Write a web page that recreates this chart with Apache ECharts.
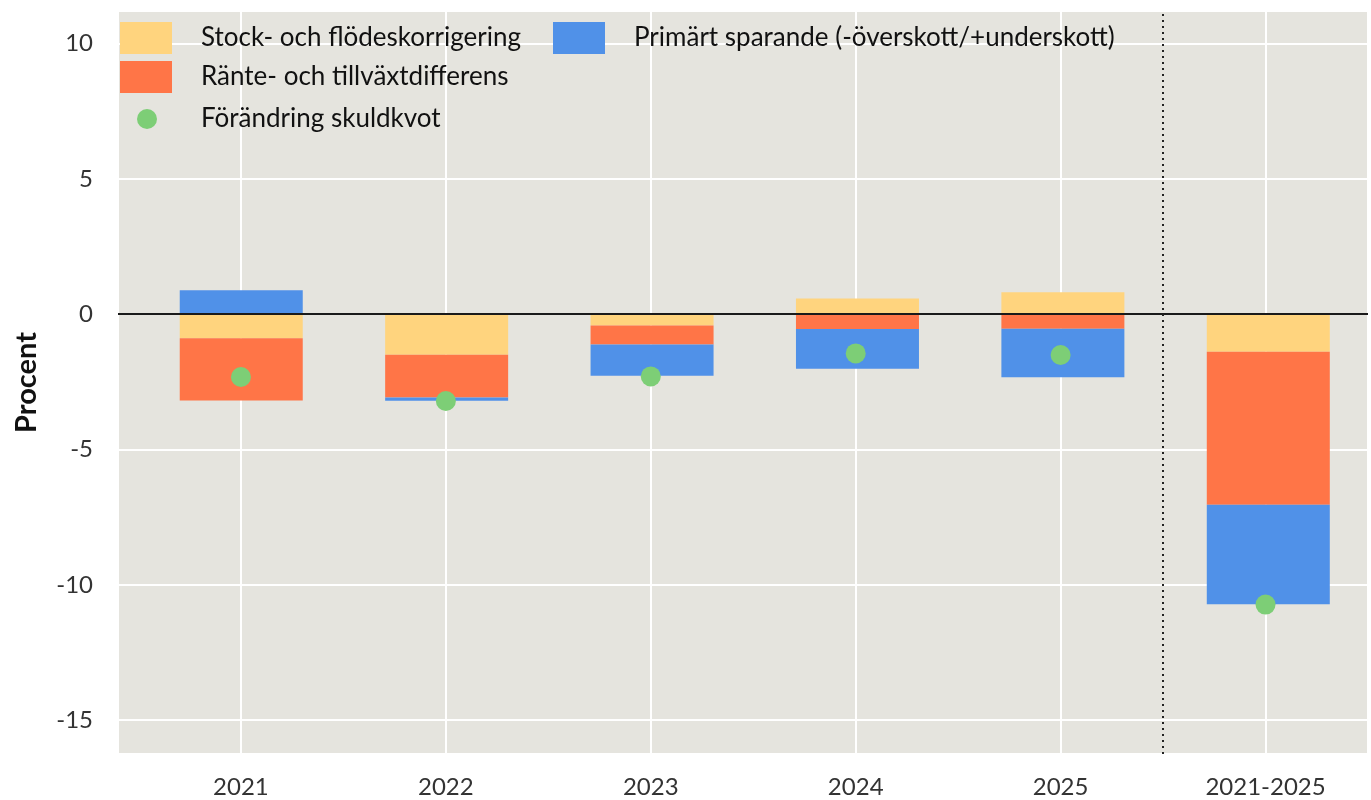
<!DOCTYPE html>
<html lang="sv">
<head>
  <meta charset="UTF-8">
  <title>Skuldkvot</title>
  <style>
    html, body { margin: 0; padding: 0; background: #fff; }
    #chart { width: 1371px; height: 800px; }
  </style>
</head>
<body>
  <div id="chart"></div>
  <script src="https://cdn.jsdelivr.net/npm/echarts@6/dist/echarts.min.js"></script>
  <script>
    // kategorier (x-axel)
    var categories = ['2021', '2022', '2023', '2024', '2025', '2021-2025'];
    // bidrag till förändring i skuldkvot, procent
    var stockFlow = [-0.89, -1.50, -0.42, 0.58, 0.81, -1.39];
    var rateGrowth = [-2.30, -1.58, -0.70, -0.55, -0.54, -5.65];
    var primary = [0.88, -0.12, -1.16, -1.47, -1.79, -3.68];
    var debtChange = [-2.32, -3.21, -2.30, -1.45, -1.51, -10.73];
    // y-axelns etiketter
    var yTicks = [-15, -10, -5, 0, 5, 10];

    var names = {
      stock: 'Stock- och flödeskorrigering',
      rate: 'Ränte- och tillväxtdifferens',
      primary: 'Primärt sparande (-överskott/+underskott)',
      debt: 'Förändring skuldkvot'
    };

    // x-axeln går från -0.6 till 5.5 (kategoriindex), staplarna ligger i ett
    // eget grid med kategoriaxel som täcker -0.5 .. 5.5
    var xMin = -0.6, xMax = 5.5, yMin = -16.25, yMax = 11.2;
    var plotLeft = 118, plotRight = 0, plotTop = 11, plotBottom = 46;
    var catWidth = (1371 - plotLeft - plotRight) / (xMax - xMin);
    var barLeft = plotLeft + (-0.5 - xMin) * catWidth;

    function pairs(arr) {
      return arr.map(function (v, i) { return [i, v]; });
    }

    var font = 'Lato';
    var legendText = { fontFamily: font, fontSize: 26, color: '#111', padding: [0, 0, 0, 24] };

    var option = {
      animation: false,
      textStyle: { fontFamily: font },
      grid: [
        {
          left: plotLeft, right: plotRight, top: plotTop, bottom: plotBottom,
          show: true, backgroundColor: '#E5E4DE', borderWidth: 0
        },
        {
          left: barLeft, right: plotRight, top: plotTop, bottom: plotBottom
        }
      ],
      legend: [
        {
          data: [names.stock, names.rate],
          orient: 'vertical', left: 120, top: 22, padding: 0,
          itemWidth: 52, itemHeight: 32, itemGap: 7, icon: 'rect',
          textStyle: legendText
        },
        {
          data: [names.primary],
          orient: 'vertical', left: 553, top: 22, padding: 0,
          itemWidth: 52, itemHeight: 32, icon: 'rect',
          textStyle: legendText
        },
        {
          data: [names.debt],
          orient: 'vertical', left: 137, top: 106, padding: 0,
          itemWidth: 20, itemHeight: 20, icon: 'circle',
          textStyle: { fontFamily: font, fontSize: 26, color: '#111', padding: [0, 0, 0, 39] }
        }
      ],
      xAxis: [
        {
          type: 'value',
          gridIndex: 0,
          min: xMin,
          max: xMax,
          axisLine: { show: false },
          axisTick: { show: false },
          axisLabel: {
            margin: 21,
            fontSize: 24,
            color: '#333',
            formatter: function (v) {
              return Number.isInteger(v) && categories[v] !== undefined ? categories[v] : '';
            }
          },
          splitLine: { show: true, lineStyle: { color: '#fff', width: 2 } }
        },
        {
          type: 'category',
          gridIndex: 1,
          data: categories,
          axisLine: { show: false },
          axisTick: { show: false },
          axisLabel: { show: false },
          splitLine: { show: false }
        }
      ],
      yAxis: [
        {
          type: 'value',
          gridIndex: 0,
          min: yMin,
          max: yMax,
          name: 'Procent',
          nameLocation: 'middle',
          nameGap: 77,
          nameTextStyle: { fontFamily: font, fontSize: 29, fontWeight: 'bold', color: '#111' },
          axisLine: { show: false },
          axisTick: { show: false },
          axisLabel: {
            margin: 25,
            fontSize: 24,
            color: '#333',
            formatter: function (v) {
              return yTicks.indexOf(v) >= 0 ? String(v) : '';
            }
          },
          splitLine: { show: true, lineStyle: { color: '#fff', width: 2 } }
        },
        {
          type: 'value',
          gridIndex: 1,
          min: yMin,
          max: yMax,
          axisLine: { show: false },
          axisTick: { show: false },
          axisLabel: { show: false },
          splitLine: { show: false }
        }
      ],
      series: [
        {
          name: names.stock, type: 'bar', stack: 'total', barWidth: 123,
          xAxisIndex: 1, yAxisIndex: 1,
          itemStyle: { color: '#FFD47E' },
          data: stockFlow
        },
        {
          name: names.rate, type: 'bar', stack: 'total', barWidth: 123,
          xAxisIndex: 1, yAxisIndex: 1,
          itemStyle: { color: '#FF7547' },
          data: rateGrowth
        },
        {
          name: names.primary, type: 'bar', stack: 'total', barWidth: 123,
          xAxisIndex: 1, yAxisIndex: 1,
          itemStyle: { color: '#5091E8' },
          data: primary
        },
        {
          name: names.debt, type: 'scatter', symbol: 'circle', symbolSize: 20,
          xAxisIndex: 0, yAxisIndex: 0, z: 5,
          itemStyle: { color: '#7DCE76', opacity: 1 },
          data: pairs(debtChange),
          markLine: {
            silent: true,
            symbol: ['none', 'none'],
            label: { show: false },
            data: [
              { yAxis: 0, lineStyle: { type: 'solid', color: '#1a1a1a', width: 2 } },
              { xAxis: categories.length - 1.5, lineStyle: { type: [2, 4], color: '#222', width: 2 } }
            ]
          }
        }
      ]
    };

    var myChart = echarts.init(document.getElementById('chart'));
    myChart.setOption(option);
  </script>
</body>
</html>
